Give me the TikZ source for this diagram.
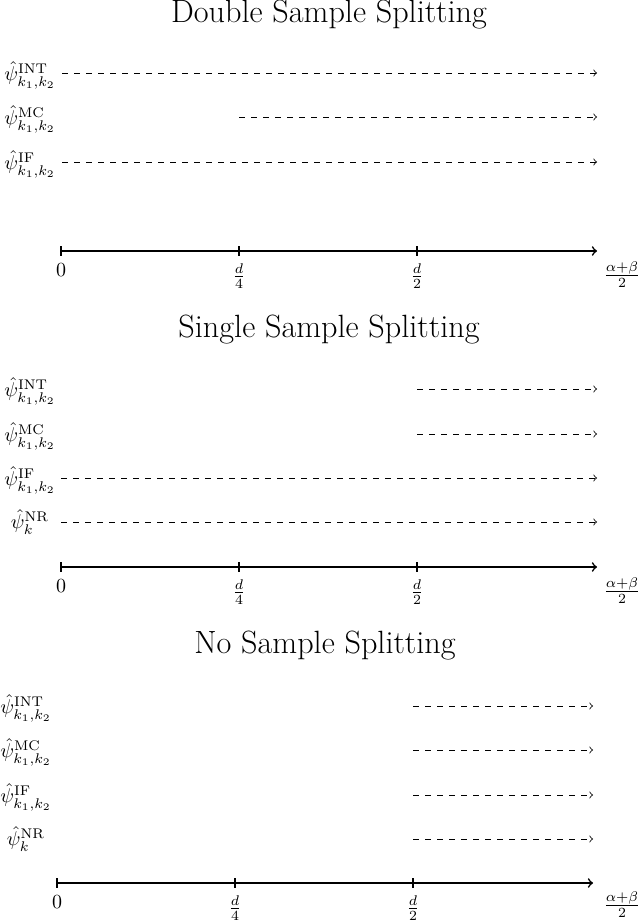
\documentclass[tikz,border=0pt]{standalone}
\usepackage{amsmath}
\usetikzlibrary{calc}
\begin{document}
\begin{tikzpicture}[x=0.5pt,y=-0.5pt,
  every node/.style={font=\fontsize{10.4}{12.5}\selectfont},
  est/.style={dashed, ->, line width=0.4pt},
  axisline/.style={thick, ->},
  tickmark/.style={thick},
  lab/.style={anchor=center},
  ticklab/.style={below=3pt},
  ttl/.style={font=\fontsize{16.1}{19}\selectfont, inner sep=0pt}]
\useasboundingbox (0,0) rectangle (640,921);

% ---------------- Double Sample Splitting ----------------
\node[ttl] (t1) at (329,15) {Double Sample Splitting};
\node[lab] (a1) at (30,75) {$\hat\psi^{\mathrm{INT}}_{k_1,k_2}$};
\node[lab] (b1) at (30,119) {$\hat\psi^{\mathrm{MC}}_{k_1,k_2}$};
\node[lab] (c1) at (30,164) {$\hat\psi^{\mathrm{IF}}_{k_1,k_2}$};
\coordinate (a1s) at (62,73);  \coordinate (a1e) at (597,73);
\coordinate (b1s) at (239,117); \coordinate (b1e) at (597,117);
\coordinate (c1s) at (62,162); \coordinate (c1e) at (597,162);
\draw[est] (a1s) -- (a1e);
\draw[est] (b1s) -- (b1e);
\draw[est] (c1s) -- (c1e);
\coordinate (o1) at (61,251); \coordinate (q1) at (239,251);
\coordinate (h1) at (417,251); \coordinate (e1) at (597,251);
\coordinate (r1) at (622,251);
\draw[axisline] (o1) -- (e1);
\foreach \p in {o1,q1,h1} \draw[tickmark] ($(\p)+(0,-5)$) -- ($(\p)+(0,5)$);
\node[ticklab] (zo1) at (o1) {$0$};
\node[ticklab] (zq1) at (q1) {$\frac{d}{4}$};
\node[ticklab] (zh1) at (h1) {$\frac{d}{2}$};
\node[below=2pt] (zr1) at (r1) {$\frac{\alpha+\beta}{2}$};

% ---------------- Single Sample Splitting ----------------
\node[ttl] (t2) at (329,330) {Single Sample Splitting};
\node[lab] (a2) at (30,391) {$\hat\psi^{\mathrm{INT}}_{k_1,k_2}$};
\node[lab] (b2) at (30,436) {$\hat\psi^{\mathrm{MC}}_{k_1,k_2}$};
\node[lab] (c2) at (30,480) {$\hat\psi^{\mathrm{IF}}_{k_1,k_2}$};
\node[lab] (d2) at (30,522) {$\hat\psi^{\mathrm{NR}}_{k}$};
\coordinate (a2s) at (417,389); \coordinate (a2e) at (597,389);
\coordinate (b2s) at (417,434); \coordinate (b2e) at (597,434);
\coordinate (c2s) at (61,478); \coordinate (c2e) at (597,478);
\coordinate (d2s) at (61,522); \coordinate (d2e) at (597,522);
\draw[est] (a2s) -- (a2e);
\draw[est] (b2s) -- (b2e);
\draw[est] (c2s) -- (c2e);
\draw[est] (d2s) -- (d2e);
\coordinate (o2) at (61,567); \coordinate (q2) at (239,567);
\coordinate (h2) at (417,567); \coordinate (e2) at (597,567);
\coordinate (r2) at (622,567);
\draw[axisline] (o2) -- (e2);
\foreach \p in {o2,q2,h2} \draw[tickmark] ($(\p)+(0,-5)$) -- ($(\p)+(0,5)$);
\node[ticklab] (zo2) at (o2) {$0$};
\node[ticklab] (zq2) at (q2) {$\frac{d}{4}$};
\node[ticklab] (zh2) at (h2) {$\frac{d}{2}$};
\node[below=2pt] (zr2) at (r2) {$\frac{\alpha+\beta}{2}$};

% ---------------- No Sample Splitting ----------------
\node[ttl] (t3) at (325,646) {No Sample Splitting};
\node[lab] (a3) at (26,708) {$\hat\psi^{\mathrm{INT}}_{k_1,k_2}$};
\node[lab] (b3) at (26,752) {$\hat\psi^{\mathrm{MC}}_{k_1,k_2}$};
\node[lab] (c3) at (26,797) {$\hat\psi^{\mathrm{IF}}_{k_1,k_2}$};
\node[lab] (d3) at (26,839) {$\hat\psi^{\mathrm{NR}}_{k}$};
\coordinate (a3s) at (413,706); \coordinate (a3e) at (593,706);
\coordinate (b3s) at (413,750); \coordinate (b3e) at (593,750);
\coordinate (c3s) at (413,795); \coordinate (c3e) at (593,795);
\coordinate (d3s) at (413,839); \coordinate (d3e) at (593,839);
\draw[est] (a3s) -- (a3e);
\draw[est] (b3s) -- (b3e);
\draw[est] (c3s) -- (c3e);
\draw[est] (d3s) -- (d3e);
\coordinate (o3) at (57,883); \coordinate (q3) at (235,883);
\coordinate (h3) at (413,883); \coordinate (e3) at (593,883);
\coordinate (r3) at (622,883);
\draw[axisline] (o3) -- (e3);
\foreach \p in {o3,q3,h3} \draw[tickmark] ($(\p)+(0,-5)$) -- ($(\p)+(0,5)$);
\node[ticklab] (zo3) at (o3) {$0$};
\node[ticklab] (zq3) at (q3) {$\frac{d}{4}$};
\node[ticklab] (zh3) at (h3) {$\frac{d}{2}$};
\node[below=1pt] (zr3) at (r3) {$\frac{\alpha+\beta}{2}$};
\end{tikzpicture}
\end{document}
